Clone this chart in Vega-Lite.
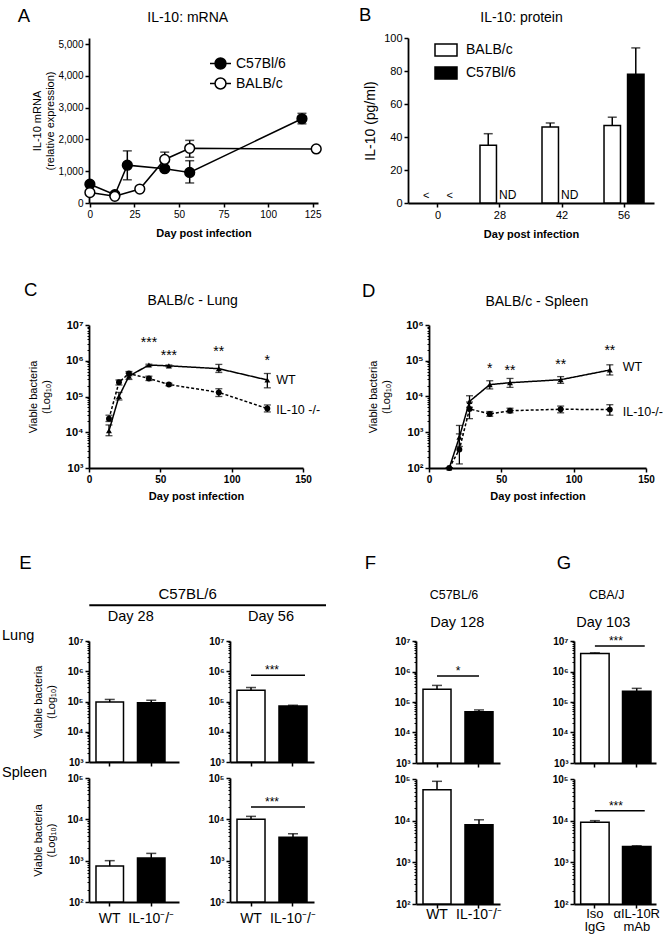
{
"$schema":"https://vega.github.io/schema/vega-lite/v6.json",
"background":"white",
"padding":{"left":1,"top":6,"right":0,"bottom":0},
"config":{
 "font":"Liberation Sans",
 "view":{"stroke":null},
 "axis":{"domainColor":"black","domainWidth":1.8,"tickColor":"black","tickWidth":1.5,"tickSize":4,"labelColor":"black","titleColor":"black","grid":false,"labelFontSize":10,"titleFontSize":11,"titleFontWeight":"normal","labelPadding":2,"labelFlush":false,"labelOverlap":false,"labelAngle":0},
 "legend":{"labelColor":"black"},
 "text":{"color":"black","baseline":"alphabetic"}
},
"datasets":{
 "mrna":[
  {"g":"C57Bl/6","day":0,"v":590,"lo":590,"hi":590},
  {"g":"C57Bl/6","day":14,"v":260,"lo":260,"hi":260},
  {"g":"C57Bl/6","day":21,"v":1190,"lo":730,"hi":1640},
  {"g":"C57Bl/6","day":42,"v":1080,"lo":1010,"hi":1150},
  {"g":"C57Bl/6","day":56,"v":960,"lo":630,"hi":1330},
  {"g":"C57Bl/6","day":119,"v":2650,"lo":2490,"hi":2820},
  {"g":"BALB/c","day":0,"v":330,"lo":330,"hi":330},
  {"g":"BALB/c","day":14,"v":210,"lo":210,"hi":210},
  {"g":"BALB/c","day":28,"v":440,"lo":440,"hi":440},
  {"g":"BALB/c","day":42,"v":1370,"lo":1150,"hi":1600},
  {"g":"BALB/c","day":56,"v":1720,"lo":1440,"hi":1970},
  {"g":"BALB/c","day":127,"v":1700,"lo":1700,"hi":1700}
 ],
 "prot":[
  {"day":"28","g":"BALB/c","v":35,"hi":42},
  {"day":"42","g":"BALB/c","v":46,"hi":48.5},
  {"day":"56","g":"BALB/c","v":47,"hi":52},
  {"day":"56","g":"C57Bl/6","v":78,"hi":94}
 ],
 "lungC":[
  {"g":"WT","day":14,"v":11000,"lo":8000,"hi":16000},
  {"g":"WT","day":21,"v":100000,"lo":80000,"hi":130000},
  {"g":"WT","day":28,"v":370000,"lo":300000,"hi":450000},
  {"g":"WT","day":42,"v":760000,"lo":720000,"hi":800000},
  {"g":"WT","day":56,"v":720000,"lo":680000,"hi":760000},
  {"g":"WT","day":91,"v":600000,"lo":470000,"hi":790000},
  {"g":"WT","day":125,"v":290000,"lo":175000,"hi":440000},
  {"g":"IL-10 -/-","day":14,"v":24000,"lo":20000,"hi":30000},
  {"g":"IL-10 -/-","day":21,"v":250000,"lo":210000,"hi":290000},
  {"g":"IL-10 -/-","day":28,"v":440000,"lo":380000,"hi":500000},
  {"g":"IL-10 -/-","day":42,"v":320000,"lo":280000,"hi":370000},
  {"g":"IL-10 -/-","day":56,"v":217000,"lo":200000,"hi":235000},
  {"g":"IL-10 -/-","day":91,"v":130000,"lo":100000,"hi":165000},
  {"g":"IL-10 -/-","day":125,"v":46000,"lo":37000,"hi":58000}
 ],
 "spleenD":[
  {"g":"WT","day":14,"v":100,"lo":100,"hi":100},
  {"g":"WT","day":21,"v":730,"lo":400,"hi":1550},
  {"g":"WT","day":28,"v":7300,"lo":5000,"hi":10500},
  {"g":"WT","day":42,"v":21500,"lo":16300,"hi":27600},
  {"g":"WT","day":56,"v":24300,"lo":18000,"hi":32000},
  {"g":"WT","day":91,"v":29500,"lo":23300,"hi":36000},
  {"g":"WT","day":125,"v":55000,"lo":40000,"hi":77000},
  {"g":"IL-10-/-","day":14,"v":100,"lo":100,"hi":100},
  {"g":"IL-10-/-","day":21,"v":330,"lo":130,"hi":900},
  {"g":"IL-10-/-","day":28,"v":4500,"lo":2400,"hi":7000},
  {"g":"IL-10-/-","day":42,"v":3240,"lo":2800,"hi":3800},
  {"g":"IL-10-/-","day":56,"v":4000,"lo":3500,"hi":4700},
  {"g":"IL-10-/-","day":91,"v":4400,"lo":3500,"hi":5400},
  {"g":"IL-10-/-","day":125,"v":4300,"lo":3000,"hi":5900}
 ],
 "eL28":[{"g":"WT","v":96000,"hi":117000},{"g":"IL-10⁻/⁻","v":91000,"hi":110000}],
 "eL56":[{"g":"WT","v":235000,"hi":290000},{"g":"IL-10⁻/⁻","v":71000,"hi":75000}],
 "eS28":[{"g":"WT","v":740,"hi":1000},{"g":"IL-10⁻/⁻","v":1160,"hi":1500}],
 "eS56":[{"g":"WT","v":10000,"hi":11800},{"g":"IL-10⁻/⁻","v":3700,"hi":4500}],
 "fL":[{"g":"WT","v":260000,"hi":350000},{"g":"IL-10⁻/⁻","v":48000,"hi":55000}],
 "fS":[{"g":"WT","v":55000,"hi":88000},{"g":"IL-10⁻/⁻","v":8000,"hi":10500}],
 "gL":[{"g":"Iso IgG","v":3900000,"hi":4100000},{"g":"αIL-10R mAb","v":227000,"hi":280000}],
 "gS":[{"g":"Iso IgG","v":9200,"hi":10000},{"g":"αIL-10R mAb","v":2400,"hi":2500}]
},
"resolve":{"scale":{"fill":"independent","shape":"independent","strokeDash":"independent"},"legend":{"fill":"independent"}},
"spacing":53,
"vconcat":[
 {"resolve":{"scale":{"fill":"independent","shape":"independent","strokeDash":"independent"},"legend":{"fill":"independent"}},
  "spacing":42,
  "vconcat":[
 {"hconcat":[
  {"width":229,"height":165,
   "layer":[
    {"data":{"name":"mrna"},"mark":{"type":"line","color":"black","strokeWidth":1.5},
     "encoding":{
      "x":{"field":"day","type":"quantitative","scale":{"domain":[-0.5,128],"nice":false,"zero":false},"axis":{"values":[0,25,50,75,100,125],"title":"Day post infection","titleFontWeight":"bold","titleFontSize":11,"titlePadding":8}},
      "y":{"field":"v","type":"quantitative","scale":{"domain":[0,5190],"nice":false},"axis":{"values":[0,1000,2000,3000,4000,5000],"tickCount":6,"labelOverlap":false,"labelExpr":"format(datum.value, ',')","title":["IL-10 mRNA","(relative expression)"],"titlePadding":2}},
      "detail":{"field":"g","type":"nominal"}}},
    {"data":{"name":"mrna"},"mark":{"type":"rule","color":"black","strokeWidth":1.5},
     "encoding":{"x":{"field":"day","type":"quantitative"},"y":{"field":"lo","type":"quantitative"},"y2":{"field":"hi"}}},
    {"data":{"name":"mrna"},"mark":{"type":"tick","color":"black","thickness":1.5,"size":9,"orient":"horizontal"},
     "encoding":{"x":{"field":"day","type":"quantitative"},"y":{"field":"lo","type":"quantitative"}}},
    {"data":{"name":"mrna"},"mark":{"type":"tick","color":"black","thickness":1.5,"size":9,"orient":"horizontal"},
     "encoding":{"x":{"field":"day","type":"quantitative"},"y":{"field":"hi","type":"quantitative"}}},
    {"data":{"name":"mrna"},"mark":{"type":"point","filled":true,"shape":"circle","size":95,"stroke":"black","strokeWidth":1.5,"opacity":1},
     "encoding":{"x":{"field":"day","type":"quantitative"},"y":{"field":"v","type":"quantitative"},
      "fill":{"field":"g","type":"nominal","scale":{"domain":["C57Bl/6","BALB/c"],"range":["black","white"]},
       "legend":{"title":null,"orient":"none","legendX":120,"legendY":14,"symbolType":"M-1,0H-0.52M0.52,0H1M-0.52,0A0.52,0.52 0 1,1 0.52,0A0.52,0.52 0 1,1 -0.52,0Z","symbolSize":441,"symbolStrokeColor":"black","symbolStrokeWidth":1.5,"labelFontSize":14,"labelOffset":4,"rowPadding":-3,"labelColor":"black"}}}},
    {"data":{"values":[{"t":"A"}]},"mark":{"type":"text","align":"left","fontSize":18.5,"dx":-72.2,"dy":-22.3},"encoding":{"x":{"datum":0},"y":{"datum":5000},"text":{"field":"t"}}},
    {"data":{"values":[{"t":"IL-10: mRNA"}]},"mark":{"type":"text","align":"center","fontSize":14,"dx":97.8,"dy":-22.3},"encoding":{"x":{"datum":0},"y":{"datum":5000},"text":{"field":"t"}}}
   ]},
  {"width":246,"height":165,
   "layer":[
    {"data":{"name":"prot"},"mark":{"type":"bar","stroke":"black","strokeWidth":1.5},
     "encoding":{
      "x":{"field":"day","type":"nominal","scale":{"domain":["0","28","42","56"],"paddingInner":0.355,"paddingOuter":0.161},"axis":{"title":"Day post infection","titleFontWeight":"bold","titleFontSize":11,"labelFontSize":11,"titlePadding":8}},
      "xOffset":{"field":"g","type":"nominal","scale":{"domain":["BALB/c","C57Bl/6"],"paddingInner":0.3}},
      "y":{"field":"v","type":"quantitative","scale":{"domain":[0,100],"nice":false},"axis":{"values":[0,20,40,60,80,100],"tickCount":6,"labelOverlap":false,"labelExpr":"format(datum.value, 'd')","title":"IL-10 (pg/ml)","titleFontSize":14,"labelFontSize":11,"titlePadding":6}},
      "fill":{"field":"g","type":"nominal","scale":{"domain":["BALB/c","C57Bl/6"],"range":["white","black"]},
       "legend":{"title":null,"orient":"none","legendX":26,"legendY":0,"symbolType":"M-1,-0.55H1V0.55H-1Z","symbolSize":484,"symbolStrokeColor":"black","symbolStrokeWidth":1.5,"labelFontSize":14,"labelOffset":8,"rowPadding":1,"labelColor":"black"}}}},
    {"data":{"name":"prot"},"mark":{"type":"rule","color":"black","strokeWidth":1.5},
     "encoding":{"x":{"field":"day","type":"nominal"},"xOffset":{"field":"g","type":"nominal"},"y":{"field":"v","type":"quantitative"},"y2":{"field":"hi"}}},
    {"data":{"name":"prot"},"mark":{"type":"tick","color":"black","thickness":1.5,"size":9,"orient":"horizontal"},
     "encoding":{"x":{"field":"day","type":"nominal"},"xOffset":{"field":"g","type":"nominal"},"y":{"field":"hi","type":"quantitative"}}},
    {"data":{"values":[{"day":"0","g":"BALB/c","t":"<"},{"day":"0","g":"C57Bl/6","t":"<"}]},"mark":{"type":"text","align":"center","fontSize":11,"dy":-4},
     "encoding":{"x":{"field":"day","type":"nominal"},"xOffset":{"field":"g","type":"nominal"},"y":{"datum":0},"text":{"field":"t"}}},
    {"data":{"values":[{"day":"28","g":"C57Bl/6","t":"ND"},{"day":"42","g":"C57Bl/6","t":"ND"}]},"mark":{"type":"text","align":"center","fontSize":12,"dx":-4,"dy":-3.7},
     "encoding":{"x":{"field":"day","type":"nominal"},"xOffset":{"field":"g","type":"nominal"},"y":{"datum":0},"text":{"field":"t"}}},
    {"data":{"values":[{"t":"B"}]},"mark":{"type":"text","align":"left","fontSize":18.5,"dx":-79,"dy":-17},"encoding":{"x":{"datum":"0"},"y":{"datum":100},"text":{"field":"t"}}},
    {"data":{"values":[{"t":"IL-10: protein"}]},"mark":{"type":"text","align":"center","fontSize":14,"dx":21.5,"dy":-16.3},"encoding":{"x":{"datum":"28"},"y":{"datum":100},"text":{"field":"t"}}}
   ]}
 ],"spacing":90,"bounds":"flush","resolve":{"scale":{"fill":"independent","shape":"independent","strokeDash":"independent"},"legend":{"fill":"independent"}}},
 {"hconcat":[
  {"width":214,"height":143,
   "layer":[
    {"data":{"name":"lungC"},"mark":{"type":"line","color":"black","strokeWidth":1.5},
     "encoding":{
      "x":{"field":"day","type":"quantitative","scale":{"domain":[0,150],"nice":false},"axis":{"values":[0,25,50,75,100,125,150],"title":"Day post infection","titleFontWeight":"bold","titleFontSize":11,"labelFontWeight":"bold","labelFontSize":10,"titlePadding":6}},
      "y":{"field":"v","type":"quantitative","scale":{"type":"log","domain":[1000,10000000],"nice":false},"axis":{"values":[1000,2000,3000,4000,5000,6000,7000,8000,9000,10000,20000,30000,40000,50000,60000,70000,80000,90000,100000,200000,300000,400000,500000,600000,700000,800000,900000,1000000,2000000,3000000,4000000,5000000,6000000,7000000,8000000,9000000,10000000],"labelExpr":"datum.value==100?'10²':datum.value==1000?'10³':datum.value==10000?'10⁴':datum.value==100000?'10⁵':datum.value==1000000?'10⁶':datum.value==10000000?'10⁷':''","tickSize":{"condition":{"test":"indexof([100,1000,10000,100000,1000000,10000000],datum.value)>=0","value":4},"value":2},"tickWidth":{"condition":{"test":"indexof([100,1000,10000,100000,1000000,10000000],datum.value)>=0","value":1.5},"value":1},"labelFontWeight":"bold","labelFontSize":11,"title":["Viable bacteria","(Log₁₀)"],"titleFontSize":11,"titlePadding":14}},
      "strokeDash":{"field":"g","type":"nominal","scale":{"domain":["WT","IL-10 -/-"],"range":[[1,0],[3,2]]},"legend":null}}},
    {"data":{"name":"lungC"},"mark":{"type":"rule","color":"black","strokeWidth":1.3},
     "encoding":{"x":{"field":"day","type":"quantitative"},"y":{"field":"lo","type":"quantitative","scale":{"type":"log"}},"y2":{"field":"hi"}}},
    {"data":{"name":"lungC"},"mark":{"type":"tick","color":"black","thickness":1.3,"size":7,"orient":"horizontal"},
     "encoding":{"x":{"field":"day","type":"quantitative"},"y":{"field":"lo","type":"quantitative","scale":{"type":"log"}}}},
    {"data":{"name":"lungC"},"mark":{"type":"tick","color":"black","thickness":1.3,"size":7,"orient":"horizontal"},
     "encoding":{"x":{"field":"day","type":"quantitative"},"y":{"field":"hi","type":"quantitative","scale":{"type":"log"}}}},
    {"data":{"name":"lungC"},"mark":{"type":"point","filled":true,"color":"black","size":35,"opacity":1},
     "encoding":{"x":{"field":"day","type":"quantitative"},"y":{"field":"v","type":"quantitative","scale":{"type":"log"}},
      "shape":{"field":"g","type":"nominal","scale":{"domain":["WT","IL-10 -/-"],"range":["triangle-up","circle"]},"legend":null}}},
    {"data":{"values":[{"day":42,"y":2470000,"t":"***"},{"day":56,"y":1050000,"t":"***"},{"day":91,"y":1380000,"t":"**"},{"day":125,"y":760000,"t":"*"}]},"mark":{"type":"text","align":"center","fontSize":14},
     "encoding":{"x":{"field":"day","type":"quantitative"},"y":{"field":"y","type":"quantitative","scale":{"type":"log"}},"text":{"field":"t"}}},
    {"data":{"values":[{"day":131.3,"y":224000,"t":"WT"},{"day":131.3,"y":32400,"t":"IL-10 -/-"}]},"mark":{"type":"text","align":"left","fontSize":12.5},
     "encoding":{"x":{"field":"day","type":"quantitative"},"y":{"field":"y","type":"quantitative","scale":{"type":"log"}},"text":{"field":"t"}}},
    {"data":{"values":[{"t":"C"}]},"mark":{"type":"text","align":"left","fontSize":18.5,"dx":-65,"dy":-28.7},"encoding":{"x":{"datum":0},"y":{"datum":10000000},"text":{"field":"t"}}},
    {"data":{"values":[{"t":"BALB/c - Lung"}]},"mark":{"type":"text","align":"center","fontSize":14,"dx":103.7,"dy":-19.7},"encoding":{"x":{"datum":0},"y":{"datum":10000000},"text":{"field":"t"}}}
   ]},
  {"width":217,"height":143,
   "layer":[
    {"data":{"name":"spleenD"},"mark":{"type":"line","color":"black","strokeWidth":1.5},
     "encoding":{
      "x":{"field":"day","type":"quantitative","scale":{"domain":[0,150],"nice":false},"axis":{"values":[0,25,50,75,100,125,150],"title":"Day post infection","titleFontWeight":"bold","titleFontSize":11,"labelFontWeight":"bold","labelFontSize":10,"titlePadding":6}},
      "y":{"field":"v","type":"quantitative","scale":{"type":"log","domain":[100,1000000],"nice":false},"axis":{"values":[100,200,300,400,500,600,700,800,900,1000,2000,3000,4000,5000,6000,7000,8000,9000,10000,20000,30000,40000,50000,60000,70000,80000,90000,100000,200000,300000,400000,500000,600000,700000,800000,900000,1000000],"labelExpr":"datum.value==100?'10²':datum.value==1000?'10³':datum.value==10000?'10⁴':datum.value==100000?'10⁵':datum.value==1000000?'10⁶':datum.value==10000000?'10⁷':''","tickSize":{"condition":{"test":"indexof([100,1000,10000,100000,1000000,10000000],datum.value)>=0","value":4},"value":2},"tickWidth":{"condition":{"test":"indexof([100,1000,10000,100000,1000000,10000000],datum.value)>=0","value":1.5},"value":1},"labelFontWeight":"bold","labelFontSize":11,"title":["Viable bacteria","(Log₁₀)"],"titleFontSize":11,"titlePadding":14}},
      "strokeDash":{"field":"g","type":"nominal","scale":{"domain":["WT","IL-10-/-"],"range":[[1,0],[3,2]]},"legend":null}}},
    {"data":{"name":"spleenD"},"mark":{"type":"rule","color":"black","strokeWidth":1.3},
     "encoding":{"x":{"field":"day","type":"quantitative"},"y":{"field":"lo","type":"quantitative","scale":{"type":"log"}},"y2":{"field":"hi"}}},
    {"data":{"name":"spleenD"},"mark":{"type":"tick","color":"black","thickness":1.3,"size":7,"orient":"horizontal"},
     "encoding":{"x":{"field":"day","type":"quantitative"},"y":{"field":"lo","type":"quantitative","scale":{"type":"log"}}}},
    {"data":{"name":"spleenD"},"mark":{"type":"tick","color":"black","thickness":1.3,"size":7,"orient":"horizontal"},
     "encoding":{"x":{"field":"day","type":"quantitative"},"y":{"field":"hi","type":"quantitative","scale":{"type":"log"}}}},
    {"data":{"name":"spleenD"},"mark":{"type":"point","filled":true,"color":"black","size":35,"opacity":1},
     "encoding":{"x":{"field":"day","type":"quantitative"},"y":{"field":"v","type":"quantitative","scale":{"type":"log"}},
      "shape":{"field":"g","type":"nominal","scale":{"domain":["WT","IL-10-/-"],"range":["triangle-up","circle"]},"legend":null}}},
    {"data":{"values":[{"day":42,"y":44300,"t":"*"},{"day":56,"y":40000,"t":"**"},{"day":91,"y":58700,"t":"**"},{"day":125,"y":145000,"t":"**"}]},"mark":{"type":"text","align":"center","fontSize":14},
     "encoding":{"x":{"field":"day","type":"quantitative"},"y":{"field":"y","type":"quantitative","scale":{"type":"log"}},"text":{"field":"t"}}},
    {"data":{"values":[{"day":133.9,"y":52000,"t":"WT"},{"day":133.9,"y":2900,"t":"IL-10-/-"}]},"mark":{"type":"text","align":"left","fontSize":12.5},
     "encoding":{"x":{"field":"day","type":"quantitative"},"y":{"field":"y","type":"quantitative","scale":{"type":"log"}},"text":{"field":"t"}}},
    {"data":{"values":[{"t":"D"}]},"mark":{"type":"text","align":"left","fontSize":18.5,"dx":-67,"dy":-27.7},"encoding":{"x":{"datum":0},"y":{"datum":1000000},"text":{"field":"t"}}},
    {"data":{"values":[{"t":"BALB/c - Spleen"}]},"mark":{"type":"text","align":"center","fontSize":14,"dx":107.8,"dy":-18.7},"encoding":{"x":{"datum":0},"y":{"datum":1000000},"text":{"field":"t"}}}
   ]}
 ],"spacing":126,"bounds":"flush","resolve":{"scale":{"fill":"independent","shape":"independent","strokeDash":"independent"},"legend":{"fill":"independent"}}}
 ]},
 {"hconcat":[
  {"concat":[
   {"width":90,"height":121,
    "layer":[
     {"data":{"name":"eL28"},"mark":{"type":"bar","stroke":"black","strokeWidth":1.5},
      "encoding":{
       "x":{"field":"g","type":"nominal","scale":{"domain":["WT","IL-10⁻/⁻"],"paddingInner":0.337,"paddingOuter":0.253,"align":0.333},"axis":{"title":null,"labels":false}},
       "y":{"field":"v","type":"quantitative","scale":{"type":"log","domain":[1000,10000000],"nice":false},"axis":{"values":[1000,2000,3000,4000,5000,6000,7000,8000,9000,10000,20000,30000,40000,50000,60000,70000,80000,90000,100000,200000,300000,400000,500000,600000,700000,800000,900000,1000000,2000000,3000000,4000000,5000000,6000000,7000000,8000000,9000000,10000000],"labelExpr":"datum.value==100?'10²':datum.value==1000?'10³':datum.value==10000?'10⁴':datum.value==100000?'10⁵':datum.value==1000000?'10⁶':datum.value==10000000?'10⁷':''","tickSize":{"condition":{"test":"indexof([100,1000,10000,100000,1000000,10000000],datum.value)>=0","value":4},"value":2},"tickWidth":{"condition":{"test":"indexof([100,1000,10000,100000,1000000,10000000],datum.value)>=0","value":1.5},"value":1},"labelFontWeight":"bold","labelFontSize":10,"title":["Viable bacteria","(Log₁₀)"],"titleFontSize":11,"titlePadding":10}},
       "y2":{"datum":1000},
       "fill":{"field":"g","type":"nominal","scale":{"domain":["WT","IL-10⁻/⁻"],"range":["white","black"]},"legend":null}}},
     {"data":{"name":"eL28"},"mark":{"type":"rule","color":"black","strokeWidth":1.5},"encoding":{"x":{"field":"g","type":"nominal"},"y":{"field":"v","type":"quantitative","scale":{"type":"log"}},"y2":{"field":"hi"}}},
     {"data":{"name":"eL28"},"mark":{"type":"tick","color":"black","thickness":1.5,"size":10,"orient":"horizontal"},"encoding":{"x":{"field":"g","type":"nominal"},"y":{"field":"hi","type":"quantitative","scale":{"type":"log"}}}},
     {"data":{"values":[{"t":"E"}]},"mark":{"type":"text","align":"left","fontSize":18.5,"dx":-90.45,"dy":-71.7},"encoding":{"x":{"datum":"WT"},"y":{"datum":10000000},"text":{"field":"t"}}},
     {"data":{"values":[{"t":"C57BL/6"}]},"mark":{"type":"text","align":"center","fontSize":15,"dx":77.95,"dy":-42},"encoding":{"x":{"datum":"WT"},"y":{"datum":10000000},"text":{"field":"t"}}},
     {"data":{"values":[{"t":"Day 28"}]},"mark":{"type":"text","align":"center","fontSize":14.5,"dx":21,"dy":-20},"encoding":{"x":{"datum":"WT"},"y":{"datum":10000000},"text":{"field":"t"}}},
     {"data":{"values":[{"t":"Lung"}]},"mark":{"type":"text","align":"left","fontSize":14.5,"dx":-107.75,"dy":-1},"encoding":{"x":{"datum":"WT"},"y":{"datum":10000000},"text":{"field":"t"}}},
     {"data":{"values":[{"a":"WT"}]},"mark":{"type":"rule","color":"black","strokeWidth":2,"xOffset":-20.45,"x2Offset":216.25,"yOffset":-35.7},"encoding":{"x":{"field":"a","type":"nominal"},"x2":{"field":"a"},"y":{"datum":10000000}}}
    ]},
   {"width":84,"height":121,
    "layer":[
     {"data":{"name":"eL56"},"mark":{"type":"bar","stroke":"black","strokeWidth":1.5},
      "encoding":{
       "x":{"field":"g","type":"nominal","scale":{"domain":["WT","IL-10⁻/⁻"],"paddingInner":0.333,"paddingOuter":0.1667},"axis":{"title":null,"labels":false}},
       "y":{"field":"v","type":"quantitative","scale":{"type":"log","domain":[1000,10000000],"nice":false},"axis":{"values":[1000,2000,3000,4000,5000,6000,7000,8000,9000,10000,20000,30000,40000,50000,60000,70000,80000,90000,100000,200000,300000,400000,500000,600000,700000,800000,900000,1000000,2000000,3000000,4000000,5000000,6000000,7000000,8000000,9000000,10000000],"labelExpr":"datum.value==100?'10²':datum.value==1000?'10³':datum.value==10000?'10⁴':datum.value==100000?'10⁵':datum.value==1000000?'10⁶':datum.value==10000000?'10⁷':''","tickSize":{"condition":{"test":"indexof([100,1000,10000,100000,1000000,10000000],datum.value)>=0","value":4},"value":2},"tickWidth":{"condition":{"test":"indexof([100,1000,10000,100000,1000000,10000000],datum.value)>=0","value":1.5},"value":1},"labelFontWeight":"bold","labelFontSize":10,"title":null}},
       "y2":{"datum":1000},
       "fill":{"field":"g","type":"nominal","scale":{"domain":["WT","IL-10⁻/⁻"],"range":["white","black"]},"legend":null}}},
     {"data":{"name":"eL56"},"mark":{"type":"rule","color":"black","strokeWidth":1.5},"encoding":{"x":{"field":"g","type":"nominal"},"y":{"field":"v","type":"quantitative","scale":{"type":"log"}},"y2":{"field":"hi"}}},
     {"data":{"name":"eL56"},"mark":{"type":"tick","color":"black","thickness":1.5,"size":10,"orient":"horizontal"},"encoding":{"x":{"field":"g","type":"nominal"},"y":{"field":"hi","type":"quantitative","scale":{"type":"log"}}}},
     {"data":{"values":[{"a":"WT","b":"IL-10⁻/⁻","y":735000}]},"mark":{"type":"rule","color":"black","strokeWidth":1.5,"x2Offset":12},
      "encoding":{"x":{"field":"a","type":"nominal"},"x2":{"field":"b"},"y":{"field":"y","type":"quantitative","scale":{"type":"log"}}}},
     {"data":{"values":[{"a":"WT","y":735000,"t":"***"}]},"mark":{"type":"text","align":"center","fontSize":12,"dx":21,"dy":-1},
      "encoding":{"x":{"field":"a","type":"nominal"},"y":{"field":"y","type":"quantitative","scale":{"type":"log"}},"text":{"field":"t"}}},
     {"data":{"values":[{"t":"Day 56"}]},"mark":{"type":"text","align":"center","fontSize":14.5,"dx":20,"dy":-20},"encoding":{"x":{"datum":"WT"},"y":{"datum":10000000},"text":{"field":"t"}}}
    ]},
   {"width":90,"height":124,
    "layer":[
     {"data":{"name":"eS28"},"mark":{"type":"bar","stroke":"black","strokeWidth":1.5},
      "encoding":{
       "x":{"field":"g","type":"nominal","scale":{"domain":["WT","IL-10⁻/⁻"],"paddingInner":0.337,"paddingOuter":0.253,"align":0.333},"axis":{"title":null,"labelFontSize":14,"labelPadding":5}},
       "y":{"field":"v","type":"quantitative","scale":{"type":"log","domain":[100,100000],"nice":false},"axis":{"values":[100,200,300,400,500,600,700,800,900,1000,2000,3000,4000,5000,6000,7000,8000,9000,10000,20000,30000,40000,50000,60000,70000,80000,90000,100000],"labelExpr":"datum.value==100?'10²':datum.value==1000?'10³':datum.value==10000?'10⁴':datum.value==100000?'10⁵':datum.value==1000000?'10⁶':datum.value==10000000?'10⁷':''","tickSize":{"condition":{"test":"indexof([100,1000,10000,100000,1000000,10000000],datum.value)>=0","value":4},"value":2},"tickWidth":{"condition":{"test":"indexof([100,1000,10000,100000,1000000,10000000],datum.value)>=0","value":1.5},"value":1},"labelFontWeight":"bold","labelFontSize":10,"title":["Viable bacteria","(Log₁₀)"],"titleFontSize":11,"titlePadding":10}},
       "y2":{"datum":100},
       "fill":{"field":"g","type":"nominal","scale":{"domain":["WT","IL-10⁻/⁻"],"range":["white","black"]},"legend":null}}},
     {"data":{"name":"eS28"},"mark":{"type":"rule","color":"black","strokeWidth":1.5},"encoding":{"x":{"field":"g","type":"nominal"},"y":{"field":"v","type":"quantitative","scale":{"type":"log"}},"y2":{"field":"hi"}}},
     {"data":{"name":"eS28"},"mark":{"type":"tick","color":"black","thickness":1.5,"size":10,"orient":"horizontal"},"encoding":{"x":{"field":"g","type":"nominal"},"y":{"field":"hi","type":"quantitative","scale":{"type":"log"}}}},
     {"data":{"values":[{"t":"Spleen"}]},"mark":{"type":"text","align":"left","fontSize":14.5,"dx":-107.75,"dy":-1},"encoding":{"x":{"datum":"WT"},"y":{"datum":100000},"text":{"field":"t"}}}
    ]},
   {"width":84,"height":124,
    "layer":[
     {"data":{"name":"eS56"},"mark":{"type":"bar","stroke":"black","strokeWidth":1.5},
      "encoding":{
       "x":{"field":"g","type":"nominal","scale":{"domain":["WT","IL-10⁻/⁻"],"paddingInner":0.333,"paddingOuter":0.1667},"axis":{"title":null,"labelFontSize":14,"labelPadding":5}},
       "y":{"field":"v","type":"quantitative","scale":{"type":"log","domain":[100,100000],"nice":false},"axis":{"values":[100,200,300,400,500,600,700,800,900,1000,2000,3000,4000,5000,6000,7000,8000,9000,10000,20000,30000,40000,50000,60000,70000,80000,90000,100000],"labelExpr":"datum.value==100?'10²':datum.value==1000?'10³':datum.value==10000?'10⁴':datum.value==100000?'10⁵':datum.value==1000000?'10⁶':datum.value==10000000?'10⁷':''","tickSize":{"condition":{"test":"indexof([100,1000,10000,100000,1000000,10000000],datum.value)>=0","value":4},"value":2},"tickWidth":{"condition":{"test":"indexof([100,1000,10000,100000,1000000,10000000],datum.value)>=0","value":1.5},"value":1},"labelFontWeight":"bold","labelFontSize":10,"title":null}},
       "y2":{"datum":100},
       "fill":{"field":"g","type":"nominal","scale":{"domain":["WT","IL-10⁻/⁻"],"range":["white","black"]},"legend":null}}},
     {"data":{"name":"eS56"},"mark":{"type":"rule","color":"black","strokeWidth":1.5},"encoding":{"x":{"field":"g","type":"nominal"},"y":{"field":"v","type":"quantitative","scale":{"type":"log"}},"y2":{"field":"hi"}}},
     {"data":{"name":"eS56"},"mark":{"type":"tick","color":"black","thickness":1.5,"size":10,"orient":"horizontal"},"encoding":{"x":{"field":"g","type":"nominal"},"y":{"field":"hi","type":"quantitative","scale":{"type":"log"}}}},
     {"data":{"values":[{"a":"WT","b":"IL-10⁻/⁻","y":19900}]},"mark":{"type":"rule","color":"black","strokeWidth":1.5,"x2Offset":12},
      "encoding":{"x":{"field":"a","type":"nominal"},"x2":{"field":"b"},"y":{"field":"y","type":"quantitative","scale":{"type":"log"}}}},
     {"data":{"values":[{"a":"WT","y":19900,"t":"***"}]},"mark":{"type":"text","align":"center","fontSize":12,"dx":21,"dy":-1},
      "encoding":{"x":{"field":"a","type":"nominal"},"y":{"field":"y","type":"quantitative","scale":{"type":"log"}},"text":{"field":"t"}}}
    ]}
  ],"columns":2,"bounds":"flush","align":"each","spacing":{"row":16,"column":51},"resolve":{"scale":{"fill":"independent","shape":"independent","strokeDash":"independent"},"legend":{"fill":"independent"}}},
  {"hconcat":[
   {"vconcat":[
    {"width":84,"height":122,
     "layer":[
      {"data":{"name":"fL"},"mark":{"type":"bar","stroke":"black","strokeWidth":1.5},
       "encoding":{
        "x":{"field":"g","type":"nominal","scale":{"domain":["WT","IL-10⁻/⁻"],"paddingInner":0.333,"paddingOuter":0.1667},"axis":{"title":null,"labels":false}},
        "y":{"field":"v","type":"quantitative","scale":{"type":"log","domain":[1000,10000000],"nice":false},"axis":{"values":[1000,2000,3000,4000,5000,6000,7000,8000,9000,10000,20000,30000,40000,50000,60000,70000,80000,90000,100000,200000,300000,400000,500000,600000,700000,800000,900000,1000000,2000000,3000000,4000000,5000000,6000000,7000000,8000000,9000000,10000000],"labelExpr":"datum.value==100?'10²':datum.value==1000?'10³':datum.value==10000?'10⁴':datum.value==100000?'10⁵':datum.value==1000000?'10⁶':datum.value==10000000?'10⁷':''","tickSize":{"condition":{"test":"indexof([100,1000,10000,100000,1000000,10000000],datum.value)>=0","value":4},"value":2},"tickWidth":{"condition":{"test":"indexof([100,1000,10000,100000,1000000,10000000],datum.value)>=0","value":1.5},"value":1},"labelFontWeight":"bold","labelFontSize":10,"title":null}},
        "y2":{"datum":1000},
        "fill":{"field":"g","type":"nominal","scale":{"domain":["WT","IL-10⁻/⁻"],"range":["white","black"]},"legend":null}}},
      {"data":{"name":"fL"},"mark":{"type":"rule","color":"black","strokeWidth":1.5},"encoding":{"x":{"field":"g","type":"nominal"},"y":{"field":"v","type":"quantitative","scale":{"type":"log"}},"y2":{"field":"hi"}}},
      {"data":{"name":"fL"},"mark":{"type":"tick","color":"black","thickness":1.5,"size":10,"orient":"horizontal"},"encoding":{"x":{"field":"g","type":"nominal"},"y":{"field":"hi","type":"quantitative","scale":{"type":"log"}}}},
      {"data":{"values":[{"a":"WT","b":"IL-10⁻/⁻","y":710000}]},"mark":{"type":"rule","color":"black","strokeWidth":1.5},
       "encoding":{"x":{"field":"a","type":"nominal"},"x2":{"field":"b"},"y":{"field":"y","type":"quantitative","scale":{"type":"log"}}}},
      {"data":{"values":[{"a":"WT","y":710000,"t":"*"}]},"mark":{"type":"text","align":"center","fontSize":12,"dx":21,"dy":-1},
       "encoding":{"x":{"field":"a","type":"nominal"},"y":{"field":"y","type":"quantitative","scale":{"type":"log"}},"text":{"field":"t"}}},
      {"data":{"values":[{"t":"F"}]},"mark":{"type":"text","align":"left","fontSize":18.5,"dx":-72.3,"dy":-71.7},"encoding":{"x":{"datum":"WT"},"y":{"datum":10000000},"text":{"field":"t"}}},
      {"data":{"values":[{"t":"C57BL/6"}]},"mark":{"type":"text","align":"center","fontSize":12.5,"dx":17,"dy":-41.7},"encoding":{"x":{"datum":"WT"},"y":{"datum":10000000},"text":{"field":"t"}}},
      {"data":{"values":[{"t":"Day 128"}]},"mark":{"type":"text","align":"center","fontSize":14.5,"dx":20.3,"dy":-14},"encoding":{"x":{"datum":"WT"},"y":{"datum":10000000},"text":{"field":"t"}}}
     ]},
    {"width":84,"height":125,
     "layer":[
      {"data":{"name":"fS"},"mark":{"type":"bar","stroke":"black","strokeWidth":1.5},
       "encoding":{
        "x":{"field":"g","type":"nominal","scale":{"domain":["WT","IL-10⁻/⁻"],"paddingInner":0.333,"paddingOuter":0.1667},"axis":{"title":null,"labelFontSize":14,"labelPadding":-1}},
        "y":{"field":"v","type":"quantitative","scale":{"type":"log","domain":[100,100000],"nice":false},"axis":{"values":[100,200,300,400,500,600,700,800,900,1000,2000,3000,4000,5000,6000,7000,8000,9000,10000,20000,30000,40000,50000,60000,70000,80000,90000,100000],"labelExpr":"datum.value==100?'10²':datum.value==1000?'10³':datum.value==10000?'10⁴':datum.value==100000?'10⁵':datum.value==1000000?'10⁶':datum.value==10000000?'10⁷':''","tickSize":{"condition":{"test":"indexof([100,1000,10000,100000,1000000,10000000],datum.value)>=0","value":4},"value":2},"tickWidth":{"condition":{"test":"indexof([100,1000,10000,100000,1000000,10000000],datum.value)>=0","value":1.5},"value":1},"labelFontWeight":"bold","labelFontSize":10,"title":null}},
        "y2":{"datum":100},
        "fill":{"field":"g","type":"nominal","scale":{"domain":["WT","IL-10⁻/⁻"],"range":["white","black"]},"legend":null}}},
      {"data":{"name":"fS"},"mark":{"type":"rule","color":"black","strokeWidth":1.5},"encoding":{"x":{"field":"g","type":"nominal"},"y":{"field":"v","type":"quantitative","scale":{"type":"log"}},"y2":{"field":"hi"}}},
      {"data":{"name":"fS"},"mark":{"type":"tick","color":"black","thickness":1.5,"size":10,"orient":"horizontal"},"encoding":{"x":{"field":"g","type":"nominal"},"y":{"field":"hi","type":"quantitative","scale":{"type":"log"}}}}
     ]}
   ],"spacing":16,"bounds":"flush","resolve":{"scale":{"fill":"independent","shape":"independent","strokeDash":"independent"},"legend":{"fill":"independent"}}},
   {"vconcat":[
    {"width":82,"height":122,
     "layer":[
      {"data":{"name":"gL"},"mark":{"type":"bar","stroke":"black","strokeWidth":1.5},
       "encoding":{
        "x":{"field":"g","type":"nominal","scale":{"domain":["Iso IgG","αIL-10R mAb"],"paddingInner":0.32,"paddingOuter":0.14,"align":0.57},"axis":{"title":null,"labels":false}},
        "y":{"field":"v","type":"quantitative","scale":{"type":"log","domain":[1000,10000000],"nice":false},"axis":{"values":[1000,2000,3000,4000,5000,6000,7000,8000,9000,10000,20000,30000,40000,50000,60000,70000,80000,90000,100000,200000,300000,400000,500000,600000,700000,800000,900000,1000000,2000000,3000000,4000000,5000000,6000000,7000000,8000000,9000000,10000000],"labelExpr":"datum.value==100?'10²':datum.value==1000?'10³':datum.value==10000?'10⁴':datum.value==100000?'10⁵':datum.value==1000000?'10⁶':datum.value==10000000?'10⁷':''","tickSize":{"condition":{"test":"indexof([100,1000,10000,100000,1000000,10000000],datum.value)>=0","value":4},"value":2},"tickWidth":{"condition":{"test":"indexof([100,1000,10000,100000,1000000,10000000],datum.value)>=0","value":1.5},"value":1},"labelFontWeight":"bold","labelFontSize":10,"title":null}},
        "y2":{"datum":1000},
        "fill":{"field":"g","type":"nominal","scale":{"domain":["Iso IgG","αIL-10R mAb"],"range":["white","black"]},"legend":null}}},
      {"data":{"name":"gL"},"mark":{"type":"rule","color":"black","strokeWidth":1.5},"encoding":{"x":{"field":"g","type":"nominal"},"y":{"field":"v","type":"quantitative","scale":{"type":"log"}},"y2":{"field":"hi"}}},
      {"data":{"name":"gL"},"mark":{"type":"tick","color":"black","thickness":1.5,"size":10,"orient":"horizontal"},"encoding":{"x":{"field":"g","type":"nominal"},"y":{"field":"hi","type":"quantitative","scale":{"type":"log"}}}},
      {"data":{"values":[{"a":"Iso IgG","b":"αIL-10R mAb","y":6850000}]},"mark":{"type":"rule","color":"black","strokeWidth":1.5,"x2Offset":8},
       "encoding":{"x":{"field":"a","type":"nominal"},"x2":{"field":"b"},"y":{"field":"y","type":"quantitative","scale":{"type":"log"}}}},
      {"data":{"values":[{"a":"Iso IgG","y":6850000,"t":"***"}]},"mark":{"type":"text","align":"center","fontSize":12,"dx":21,"dy":-1},
       "encoding":{"x":{"field":"a","type":"nominal"},"y":{"field":"y","type":"quantitative","scale":{"type":"log"}},"text":{"field":"t"}}},
      {"data":{"values":[{"t":"G"}]},"mark":{"type":"text","align":"left","fontSize":18.5,"dx":-38.2,"dy":-71.7},"encoding":{"x":{"datum":"Iso IgG"},"y":{"datum":10000000},"text":{"field":"t"}}},
      {"data":{"values":[{"t":"CBA/J"}]},"mark":{"type":"text","align":"center","fontSize":12.5,"dx":11.8,"dy":-41.7},"encoding":{"x":{"datum":"Iso IgG"},"y":{"datum":10000000},"text":{"field":"t"}}},
      {"data":{"values":[{"t":"Day 103"}]},"mark":{"type":"text","align":"center","fontSize":14.5,"dx":8.4,"dy":-14},"encoding":{"x":{"datum":"Iso IgG"},"y":{"datum":10000000},"text":{"field":"t"}}}
     ]},
    {"width":82,"height":125,
     "layer":[
      {"data":{"name":"gS"},"mark":{"type":"bar","stroke":"black","strokeWidth":1.5},
       "encoding":{
        "x":{"field":"g","type":"nominal","scale":{"domain":["Iso IgG","αIL-10R mAb"],"paddingInner":0.32,"paddingOuter":0.14,"align":0.57},"axis":{"title":null,"labelFontSize":13,"labelPadding":-1,"labelExpr":"split(datum.value,' ')","labelLineHeight":13.5}},
        "y":{"field":"v","type":"quantitative","scale":{"type":"log","domain":[100,100000],"nice":false},"axis":{"values":[100,200,300,400,500,600,700,800,900,1000,2000,3000,4000,5000,6000,7000,8000,9000,10000,20000,30000,40000,50000,60000,70000,80000,90000,100000],"labelExpr":"datum.value==100?'10²':datum.value==1000?'10³':datum.value==10000?'10⁴':datum.value==100000?'10⁵':datum.value==1000000?'10⁶':datum.value==10000000?'10⁷':''","tickSize":{"condition":{"test":"indexof([100,1000,10000,100000,1000000,10000000],datum.value)>=0","value":4},"value":2},"tickWidth":{"condition":{"test":"indexof([100,1000,10000,100000,1000000,10000000],datum.value)>=0","value":1.5},"value":1},"labelFontWeight":"bold","labelFontSize":10,"title":null}},
        "y2":{"datum":100},
        "fill":{"field":"g","type":"nominal","scale":{"domain":["Iso IgG","αIL-10R mAb"],"range":["white","black"]},"legend":null}}},
      {"data":{"name":"gS"},"mark":{"type":"rule","color":"black","strokeWidth":1.5},"encoding":{"x":{"field":"g","type":"nominal"},"y":{"field":"v","type":"quantitative","scale":{"type":"log"}},"y2":{"field":"hi"}}},
      {"data":{"name":"gS"},"mark":{"type":"tick","color":"black","thickness":1.5,"size":10,"orient":"horizontal"},"encoding":{"x":{"field":"g","type":"nominal"},"y":{"field":"hi","type":"quantitative","scale":{"type":"log"}}}},
      {"data":{"values":[{"a":"Iso IgG","b":"αIL-10R mAb","y":17300}]},"mark":{"type":"rule","color":"black","strokeWidth":1.5,"x2Offset":8},
       "encoding":{"x":{"field":"a","type":"nominal"},"x2":{"field":"b"},"y":{"field":"y","type":"quantitative","scale":{"type":"log"}}}},
      {"data":{"values":[{"a":"Iso IgG","y":17300,"t":"***"}]},"mark":{"type":"text","align":"center","fontSize":12,"dx":21,"dy":-1},
       "encoding":{"x":{"field":"a","type":"nominal"},"y":{"field":"y","type":"quantitative","scale":{"type":"log"}},"text":{"field":"t"}}}
     ]}
   ],"spacing":16,"bounds":"flush","resolve":{"scale":{"fill":"independent","shape":"independent","strokeDash":"independent"},"legend":{"fill":"independent"}}}
  ],"spacing":49,"resolve":{"scale":{"fill":"independent","shape":"independent","strokeDash":"independent"},"legend":{"fill":"independent"}}}
 ],"spacing":37,"resolve":{"scale":{"fill":"independent","shape":"independent","strokeDash":"independent"},"legend":{"fill":"independent"}}}
]
}
